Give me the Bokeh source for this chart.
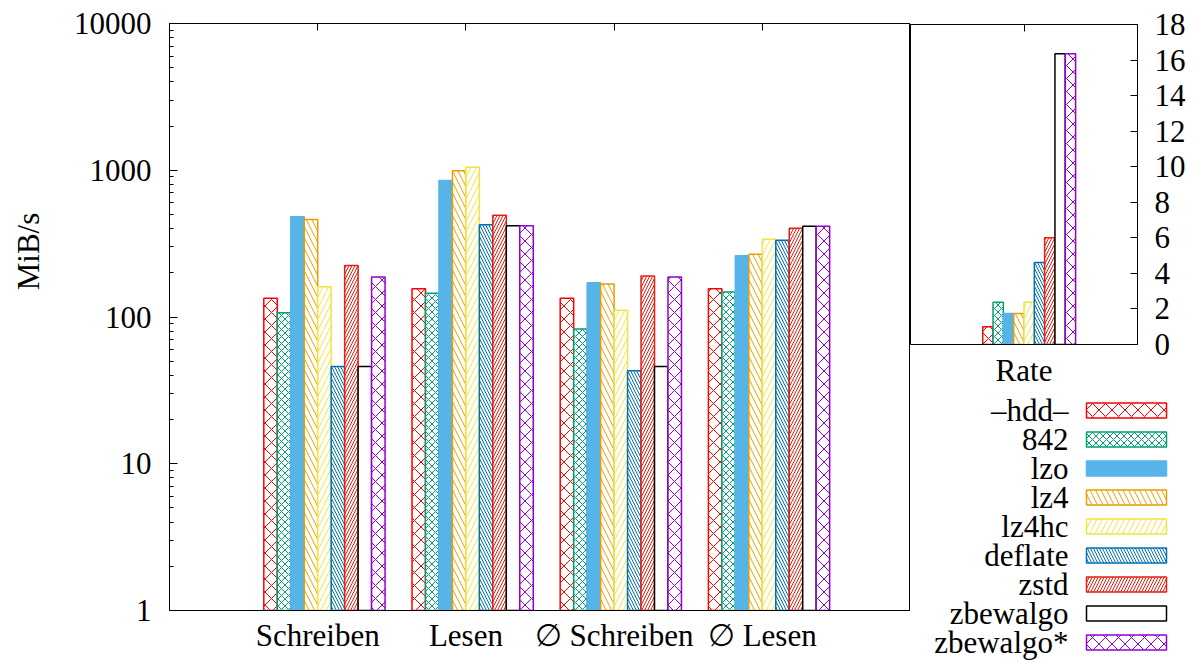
import numpy as np
from bokeh.plotting import figure
from bokeh.models import (Range1d, FixedTicker, LinearAxis, NumeralTickFormatter,
                          CustomLabelingPolicy, AllLabels)
from bokeh.layouts import row, column
from bokeh.embed import file_html
from bokeh.resources import INLINE

# ---------------- data ----------------
categories = ["Schreiben", "Lesen", "∅ Schreiben", "∅ Lesen"]
series = ["–hdd–", "842", "lzo", "lz4", "lz4hc", "deflate", "zstd", "zbewalgo", "zbewalgo*"]

hdd = [134, 156, 134, 156]
c842 = [107, 145, 83, 148]
lzo = [482, 851, 171, 261]
lz4 = [462, 991, 168, 268]
lz4hc = [161, 1050, 111, 339]
deflate = [46, 425, 43, 334]
zstd = [224, 494, 190, 403]
zbewalgo = [46, 418, 46, 416]
zbewalgo_star = [187, 418, 187, 416]

rate = [1.0, 2.37, 1.75, 1.75, 2.37, 4.61, 6.01, 16.36, 16.36]

y_ticks = [1, 10, 100, 1000, 10000]
rate_ticks = [0, 2, 4, 6, 8, 10, 12, 14, 16, 18]
y_label = "MiB/s"

values = [hdd, c842, lzo, lz4, lz4hc, deflate, zstd, zbewalgo, zbewalgo_star]

# ---------------- styles ----------------
styles = [
    dict(color="#ff0000", hatch="x", scale=13.0, solid=False),
    dict(color="#009e73", hatch="x", scale=7.0, solid=False),
    dict(color="#56b4e9", hatch=None, scale=1.0, solid=True),
    dict(color="#e69f00", hatch="\\", scale=11.0, solid=False),
    dict(color="#f0e442", hatch="/", scale=11.0, solid=False),
    dict(color="#0072b2", hatch="\\", scale=6.0, solid=False),
    dict(color="#e51e10", hatch="/", scale=6.0, solid=False),
    dict(color="#000000", hatch=None, scale=1.0, solid=False),
    dict(color="#9400d3", hatch="x", scale=13.0, solid=False),
]

FONT = "Liberation Serif"
FS = "31px"
n = len(series)
bw = 1.0 / (n + 2)
H = 660
TOP, BOTTOM = 23, 50


def glyph_kwargs(st):
    kw = dict(line_color=st["color"], line_width=1.5)
    if st["solid"]:
        kw.update(fill_color=st["color"])
    else:
        kw.update(fill_color="white")
        if st["hatch"]:
            kw.update(hatch_pattern=st["hatch"], hatch_color=st["color"],
                      hatch_scale=st["scale"], hatch_weight=1)
    return kw


def tick_only_axis(ticks):
    return LinearAxis(ticker=FixedTicker(ticks=ticks), major_tick_in=7, major_tick_out=0,
                      minor_tick_in=0, minor_tick_out=0, major_label_text_font_size="0px",
                      major_label_standoff=0,
                      major_label_policy=CustomLabelingPolicy(code="if (false) { yield 0 }"),
                      axis_line_color="black")


def style_axis(ax, standoff):
    ax.major_label_standoff = standoff
    ax.major_label_text_font = FONT
    ax.major_label_text_font_size = FS
    ax.major_label_text_color = "black"
    ax.axis_line_color = "black"
    ax.minor_tick_in = 0
    ax.minor_tick_out = 0
    ax.major_tick_out = 0


def bare(fig):
    fig.xgrid.visible = False
    fig.ygrid.visible = False
    fig.outline_line_color = None


# ---------------- y label strip (axis title centred on y=251) ----------------
lab = figure(width=50, height=H, x_range=Range1d(0, 1), y_range=Range1d(0, 1),
             output_backend="svg", toolbar_location=None, x_axis_location=None,
             min_border_left=49, min_border_right=0, min_border_top=0,
             min_border_bottom=H - 502)
bare(lab)
lab.yaxis.ticker = FixedTicker(ticks=[])
lab.yaxis.axis_line_color = None
lab.yaxis.major_tick_in = 0
lab.yaxis.major_tick_out = 0
lab.yaxis.minor_tick_in = 0
lab.yaxis.minor_tick_out = 0
lab.yaxis.axis_label = y_label
lab.yaxis.axis_label_text_font = FONT
lab.yaxis.axis_label_text_font_size = FS
lab.yaxis.axis_label_text_font_style = "normal"
lab.yaxis.axis_label_text_color = "black"
lab.yaxis.axis_label_standoff = 4

# ---------------- main plot ----------------
p = figure(width=860, height=H, x_range=Range1d(-1, 4), y_range=Range1d(1, 10000),
           y_axis_type="log", output_backend="svg", toolbar_location=None,
           min_border_left=119, min_border_right=0, min_border_top=TOP,
           min_border_bottom=BOTTOM)
p.xgrid.visible = False
p.ygrid.visible = False
p.outline_line_color = "black"
p.outline_line_width = 1

for j, (vals, st) in enumerate(zip(values, styles)):
    xs = [i + (j - (n - 2) / 2.0) * bw for i in range(len(categories))]
    p.vbar(x=xs, width=bw, bottom=1, top=vals, **glyph_kwargs(st))

p.xaxis.ticker = FixedTicker(ticks=list(range(len(categories))))
p.xaxis.major_label_overrides = {i: c for i, c in enumerate(categories)}
style_axis(p.xaxis, 7)
p.xaxis.major_tick_in = 0

minor = [m * d for d in [1, 10, 100, 1000] for m in range(2, 10)]
p.yaxis.ticker = FixedTicker(ticks=y_ticks, minor_ticks=minor)
p.yaxis.formatter = NumeralTickFormatter(format="0")
style_axis(p.yaxis, 18)
p.yaxis.major_tick_in = 8
p.yaxis.minor_tick_in = 4

p.add_layout(tick_only_axis(list(range(len(categories)))), "above")

# ---------------- inset (Rate) ----------------
q = figure(width=286, height=390, x_range=Range1d(-1, 1), y_range=Range1d(0, 18),
           y_axis_location="right", output_backend="svg", toolbar_location=None,
           min_border_left=0, min_border_right=59, min_border_top=24, min_border_bottom=44)
q.xgrid.visible = False
q.ygrid.visible = False
q.outline_line_color = "black"

for j, (r, st) in enumerate(zip(rate, styles)):
    q.vbar(x=[(j - (n - 2) / 2.0) * bw], width=bw, bottom=0, top=[r], **glyph_kwargs(st))

q.xaxis.ticker = FixedTicker(ticks=[0])
q.xaxis.major_label_overrides = {0: "Rate"}
style_axis(q.xaxis, 8)
q.xaxis.major_tick_in = 0

q.yaxis.ticker = FixedTicker(ticks=rate_ticks)
style_axis(q.yaxis, 17)
q.yaxis.major_tick_in = 7

q.add_layout(tick_only_axis([0]), "above")

# ---------------- legend (labels as axis tick labels) ----------------
LH = H - 390
FL = 168
lg = figure(width=286, height=LH, x_range=Range1d(FL, 286), y_range=Range1d(0, LH),
            output_backend="svg", toolbar_location=None, x_axis_location=None,
            min_border_left=FL, min_border_right=0, min_border_top=0, min_border_bottom=0)
bare(lg)

step = 29
ypos = [LH - 20 - j * step for j in range(n)]
for j, st in enumerate(styles):
    lg.rect(x=[216], y=[ypos[j]], width=80, height=15, **glyph_kwargs(st))

lg.yaxis.ticker = FixedTicker(ticks=ypos)
lg.yaxis.major_label_overrides = {yv: name for yv, name in zip(ypos, series)}
lg.yaxis.major_label_policy = AllLabels()
style_axis(lg.yaxis, 10)
lg.yaxis.axis_line_color = None
lg.yaxis.major_tick_in = 0

layout = row(column(lab, spacing=0), p, column(q, row(lg, spacing=0), spacing=0), spacing=0)
open("out.html", "w").write(file_html(layout, INLINE))
